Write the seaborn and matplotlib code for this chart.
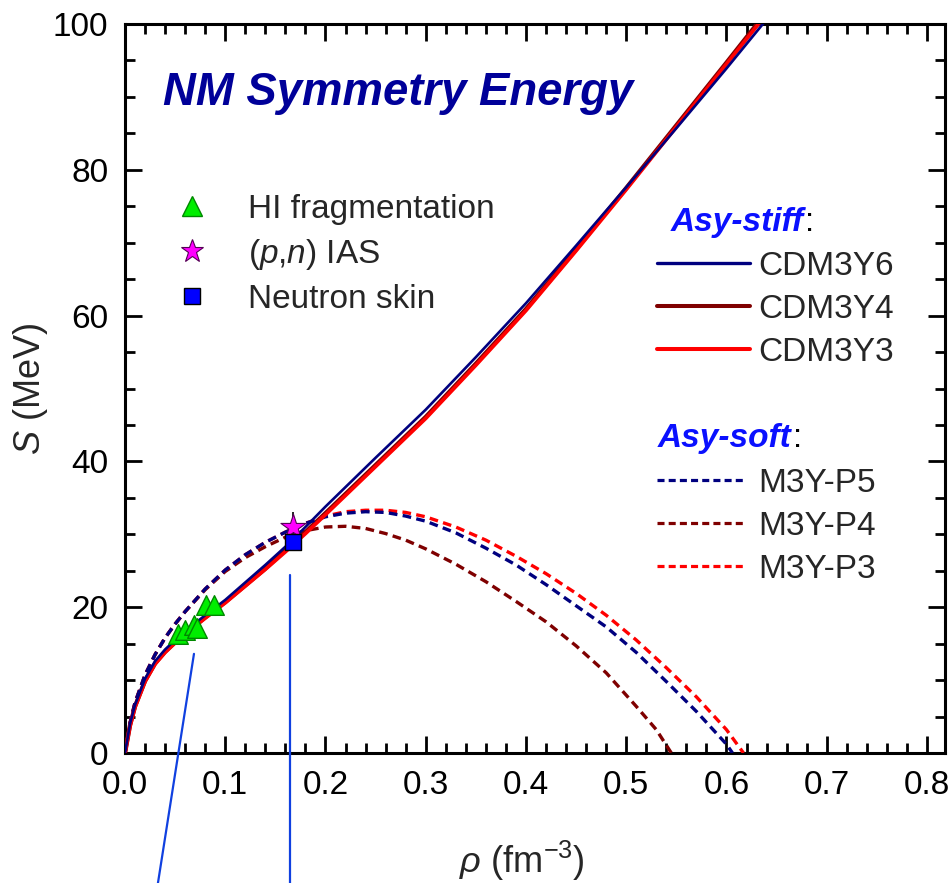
import numpy as np
import pandas as pd
import matplotlib
matplotlib.use("Agg")
import matplotlib.pyplot as plt
from matplotlib.lines import Line2D
from matplotlib.ticker import MultipleLocator, FormatStrFormatter
import seaborn as sns

# ---------------- data ----------------
rho_stiff = [0, 0.005, 0.01, 0.02, 0.03, 0.04, 0.05, 0.06, 0.08, 0.10, 0.12, 0.14,
             0.16, 0.18, 0.20, 0.25, 0.30, 0.35, 0.40, 0.45, 0.50, 0.55, 0.60, 0.65]
S_cdm3y6 = [0, 4.0, 6.6, 10.2, 12.6, 14.2, 15.5, 16.7, 18.9, 21.0, 23.4, 25.8,
            28.3, 31.0, 33.8, 40.5, 47.1, 54.3, 61.7, 69.6, 77.6, 85.7, 93.9, 102.3]
S_cdm3y4 = [0, 3.8, 6.4, 9.9, 12.3, 13.9, 15.2, 16.4, 18.6, 20.7, 23.0, 25.3,
            27.8, 30.3, 32.9, 39.5, 46.1, 53.4, 60.9, 69.1, 77.5, 86.1, 94.7, 103.4]
S_cdm3y3 = [0, 3.7, 6.3, 9.8, 12.2, 13.8, 15.1, 16.3, 18.5, 20.6, 22.9, 25.2,
            27.6, 30.1, 32.7, 39.3, 45.9, 53.2, 60.7, 68.9, 77.3, 85.9, 94.5, 103.1]

rho_p5 = [0, 0.005, 0.01, 0.02, 0.03, 0.04, 0.05, 0.06, 0.08, 0.10, 0.12, 0.14, 0.16,
          0.18, 0.20, 0.22, 0.24, 0.26, 0.28, 0.30, 0.33, 0.36, 0.39, 0.42, 0.45,
          0.48, 0.51, 0.54, 0.57, 0.60, 0.606]
S_p5 = [0, 4.1, 6.9, 10.7, 13.5, 15.8, 17.7, 19.4, 22.5, 25.1, 27.2, 28.9, 30.3,
        31.5, 32.4, 32.9, 33.1, 33.0, 32.5, 31.8, 30.2, 28.1, 25.8, 23.1, 20.2,
        17.3, 13.8, 9.8, 5.7, 1.2, 0.0]
rho_p4 = [0, 0.005, 0.01, 0.02, 0.03, 0.04, 0.05, 0.06, 0.08, 0.10, 0.12, 0.14, 0.16,
          0.18, 0.20, 0.22, 0.24, 0.26, 0.28, 0.30, 0.33, 0.36, 0.39, 0.42, 0.45,
          0.48, 0.51, 0.53, 0.545]
S_p4 = [0, 4.1, 6.9, 10.7, 13.5, 15.8, 17.7, 19.4, 22.4, 24.9, 26.8, 28.3, 29.6,
        30.5, 31.0, 31.1, 30.8, 30.1, 29.2, 28.0, 25.9, 23.5, 20.8, 18.0, 14.7,
        11.0, 6.4, 3.2, 0.0]
rho_p3 = [0, 0.005, 0.01, 0.02, 0.03, 0.04, 0.05, 0.06, 0.08, 0.10, 0.12, 0.14, 0.16,
          0.18, 0.20, 0.22, 0.24, 0.26, 0.28, 0.30, 0.33, 0.36, 0.39, 0.42, 0.45,
          0.48, 0.51, 0.54, 0.57, 0.60, 0.617]
S_p3 = [0, 4.1, 6.9, 10.7, 13.5, 15.8, 17.7, 19.4, 22.5, 25.1, 27.2, 28.9, 30.3,
        31.5, 32.5, 33.1, 33.3, 33.3, 33.0, 32.4, 31.0, 29.2, 27.0, 24.6, 21.9,
        18.9, 15.5, 11.7, 7.7, 3.2, 0.0]

# experimental points
rho_hi = [0.053, 0.060, 0.069, 0.072, 0.081, 0.089]
S_hi = [16.3, 16.9, 17.6, 17.2, 20.3, 20.3]
rho_ias = [0.168]
S_ias = [31.0]
S_ias_err = [2.0]
rho_skin = [0.168]
S_skin = [29.0]

# annotation lines (rho, S) running below the axes
annot_line_a = ([0.0688, 0.0304], [13.6, -20.0])
annot_line_b = ([0.1646, 0.1646], [24.4, -20.0])

stiff_labels = ["CDM3Y6", "CDM3Y4", "CDM3Y3"]
soft_labels = ["M3Y-P5", "M3Y-P4", "M3Y-P3"]
data_labels = ["HI fragmentation", "($\\it{p}$,$\\it{n}$) IAS", "Neutron skin"]

# ---------------- style ----------------
sns.set_style("ticks")
plt.rcParams["font.family"] = ["Liberation Sans", "DejaVu Sans"]
plt.rcParams["mathtext.fontset"] = "custom"
plt.rcParams["mathtext.rm"] = "Liberation Sans"
plt.rcParams["mathtext.it"] = "Liberation Sans:italic"
plt.rcParams["mathtext.bf"] = "Liberation Sans:bold"

NAVY = "#00007f"
DRED = "#7f0000"
RED = "#ff0000"
FS = 24

fig = plt.figure(figsize=(9.49, 8.83), dpi=100)
ax = fig.add_axes([125 / 949, 1 - 753 / 883, 820 / 949, 729 / 883])

# stiff (solid)
sns.lineplot(x=rho_stiff, y=S_cdm3y4, ax=ax, color=DRED, lw=3.1, sort=False, estimator=None, zorder=3)
sns.lineplot(x=rho_stiff, y=S_cdm3y3, ax=ax, color=RED, lw=2.7, sort=False, estimator=None, zorder=4)
sns.lineplot(x=rho_stiff, y=S_cdm3y6, ax=ax, color=NAVY, lw=1.9, sort=False, estimator=None, zorder=5)

# soft (dashed)
dash = (0, (2.6, 1.6))
sns.lineplot(x=rho_p4, y=S_p4, ax=ax, color=DRED, lw=2.4, linestyle=dash, sort=False, estimator=None, zorder=3)
sns.lineplot(x=rho_p3, y=S_p3, ax=ax, color=RED, lw=2.4, linestyle=dash, sort=False, estimator=None, zorder=3)
sns.lineplot(x=rho_p5, y=S_p5, ax=ax, color=NAVY, lw=2.4, linestyle=dash, sort=False, estimator=None, zorder=3)

# experimental points
ax.errorbar(rho_ias, S_ias, yerr=S_ias_err, fmt="none", ecolor="black", elinewidth=1.2, zorder=6)
sns.scatterplot(x=rho_hi, y=S_hi, ax=ax, marker="^", s=200, color="#00ee00",
                edgecolor="#008800", linewidth=1.0, zorder=7)
sns.scatterplot(x=rho_ias, y=S_ias, ax=ax, marker="*", s=360, color="#ff00ff",
                edgecolor="#550055", linewidth=0.8, zorder=7)
sns.scatterplot(x=rho_skin, y=S_skin, ax=ax, marker="s", s=130, color="#0000ff",
                edgecolor="black", linewidth=1.0, zorder=8)

# annotation lines extending below the frame
for xs, ys in (annot_line_a, annot_line_b):
    ax.plot(xs, ys, color="#1040e0", lw=1.6, clip_on=False, zorder=9)

# axes
ax.set_xlim(0, 0.818)
ax.set_ylim(0, 100)
ax.xaxis.set_major_locator(MultipleLocator(0.1))
ax.xaxis.set_minor_locator(MultipleLocator(0.02))
ax.yaxis.set_major_locator(MultipleLocator(20))
ax.yaxis.set_minor_locator(MultipleLocator(5))
ax.xaxis.set_major_formatter(FormatStrFormatter("%.1f"))
ax.yaxis.set_major_formatter(FormatStrFormatter("%d"))
ax.tick_params(which="both", direction="in", top=True, right=True, width=2.0, colors="black")
ax.tick_params(which="major", length=12, labelsize=FS)
ax.tick_params(which="minor", length=7)
ax.tick_params(axis="x", which="major", pad=12)
ax.tick_params(axis="y", which="major", pad=12)
for sp in ax.spines.values():
    sp.set_visible(True)
    sp.set_linewidth(2.2)
    sp.set_color("black")

ax.set_xlabel("$\\rho$ (fm$^{-3}$)", fontsize=26)
ax.set_ylabel("$S$ (MeV)", fontsize=26, labelpad=2)
ax.xaxis.set_label_coords(0.484, -0.118)

# title
ax.text(0.046, 0.889, "NM Symmetry Energy", transform=ax.transAxes, fontsize=32.8,
        fontweight="bold", fontstyle="italic", color="#000099", va="baseline", ha="left")

# legend: data points
h1 = [Line2D([], [], ls="", marker="^", ms=14, mfc="#00ee00", mec="#008800", mew=1.0),
      Line2D([], [], ls="", marker="*", ms=17, mfc="#ff00ff", mec="#550055", mew=0.8),
      Line2D([], [], ls="", marker="s", ms=11, mfc="#0000ff", mec="black", mew=1.0)]
leg1 = ax.legend(h1, data_labels, loc="upper left", bbox_to_anchor=(0.0573, 0.767),
                 frameon=False, fontsize=FS, handlelength=1.2, handletextpad=1.08,
                 borderpad=0, borderaxespad=0, labelspacing=0.36)
ax.add_artist(leg1)

# legend: stiff
h2 = [Line2D([], [], color=NAVY, lw=2.4), Line2D([], [], color=DRED, lw=2.9),
      Line2D([], [], color=RED, lw=2.9)]
leg2 = ax.legend(h2, stiff_labels, loc="upper left", bbox_to_anchor=(0.6488, 0.689),
                 frameon=False, fontsize=FS, handlelength=2.79, handletextpad=0.24,
                 borderpad=0, borderaxespad=0, labelspacing=0.36)
ax.add_artist(leg2)

# legend: soft
dash_leg = (0, (2.2, 1.3))
h3 = [Line2D([], [], color=NAVY, lw=2.3, ls=dash_leg), Line2D([], [], color=DRED, lw=2.3, ls=dash_leg),
      Line2D([], [], color=RED, lw=2.3, ls=dash_leg)]
leg3 = ax.legend(h3, soft_labels, loc="upper left", bbox_to_anchor=(0.6488, 0.391),
                 frameon=False, fontsize=FS, handlelength=2.58, handletextpad=0.45,
                 borderpad=0, borderaxespad=0, labelspacing=0.36)

# group headers
for hx, hy, htxt in ((0.665, 0.716, "Asy-stiff"), (0.650, 0.420, "Asy-soft")):
    t = ax.text(hx, hy, htxt, transform=ax.transAxes, fontsize=FS, fontweight="bold",
                fontstyle="italic", color="#0a10ff", va="baseline", ha="left")
    ax.annotate(":", xy=(1.0, 0.0), xycoords=t, xytext=(1, 0), textcoords="offset points",
                fontsize=FS, color="black", va="bottom", ha="left")

fig.savefig("out.png", dpi=100)
